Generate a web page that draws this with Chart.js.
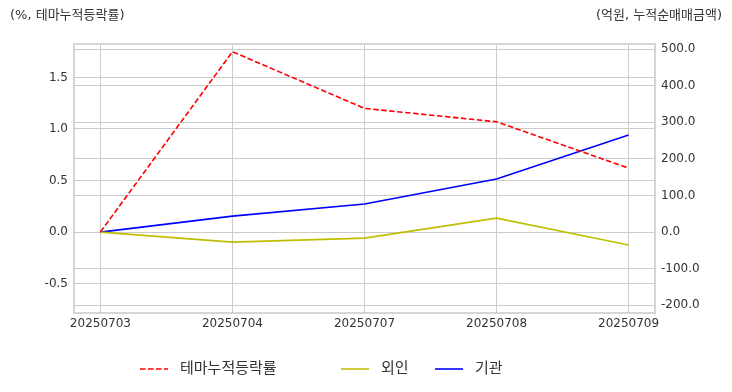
<!DOCTYPE html>
<html>
<head>
<meta charset="utf-8">
<script src="https://cdn.jsdelivr.net/npm/chart.js@4"></script>
<style>
  html, body { margin: 0; padding: 0; background: #fff; }
  #wrap { width: 732px; height: 392px; position: relative; }
</style>
</head>
<body>
<div id="wrap"><canvas id="chart" width="732" height="392"></canvas></div>
<script>
// categories (dates)
const dates = ['20250703', '20250704', '20250707', '20250708', '20250709'];

// left axis: cumulative theme change (%)
const themeRate = [0.0, 1.75, 1.20, 1.07, 0.62];

// right axis: cumulative net buying (억원)
const foreign = [0.0, -27.5, -16.5, 38.0, -35.5];
const institution = [0.0, 43.5, 76.5, 145.0, 265.0];

// tick labels
const leftTicks = [-0.5, 0.0, 0.5, 1.0, 1.5];
const rightTicks = [-200, -100, 0, 100, 200, 300, 400, 500];

const FONT = '"DejaVu Sans", "Noto Sans CJK KR", sans-serif';
const GRID = '#cccccc';
const TEXT = '#333333';

function toPoints(values) {
    return values.map((v, i) => ({ x: i, y: v }));
}

// titles, frame around the plot and a bottom legend
const decorPlugin = {
    id: 'decor',
    afterDraw(chart) {
        const ctx = chart.ctx;
        const area = chart.chartArea;
        ctx.save();

        // frame
        ctx.strokeStyle = GRID;
        ctx.lineWidth = 1.6;
        ctx.strokeRect(area.left, area.top, area.right - area.left, area.bottom - area.top);

        // axis titles
        ctx.fillStyle = TEXT;
        ctx.font = '13px ' + FONT;
        ctx.textBaseline = 'middle';
        ctx.textAlign = 'left';
        ctx.fillText('(%, 테마누적등락률)', 10, 16);
        ctx.textAlign = 'right';
        ctx.fillText('(억원, 누적순매매금액)', 722, 16);

        // legend
        const legendX = [140, 341, 435];
        const legendY = 369;
        ctx.font = '15px ' + FONT;
        ctx.textAlign = 'left';
        chart.data.datasets.forEach((ds, i) => {
            const x = legendX[i];
            ctx.strokeStyle = ds.borderColor;
            ctx.lineWidth = ds.borderWidth;
            ctx.setLineDash(ds.borderDash || []);
            ctx.beginPath();
            ctx.moveTo(x, legendY);
            ctx.lineTo(x + 28, legendY);
            ctx.stroke();
            ctx.setLineDash([]);
            ctx.fillStyle = TEXT;
            ctx.fillText(ds.label, x + 40, legendY);
        });
        ctx.restore();
    }
};

new Chart(document.getElementById('chart'), {
    type: 'line',
    data: {
        datasets: [
            {
                label: '테마누적등락률',
                data: toPoints(themeRate),
                yAxisID: 'y',
                borderColor: '#ff0000',
                borderWidth: 1.6,
                borderDash: [5.5, 2.5],
                pointRadius: 0,
                tension: 0
            },
            {
                label: '외인',
                data: toPoints(foreign),
                yAxisID: 'y2',
                borderColor: '#bfbf00',
                borderWidth: 1.6,
                pointRadius: 0,
                tension: 0
            },
            {
                label: '기관',
                data: toPoints(institution),
                yAxisID: 'y2',
                borderColor: '#0000ff',
                borderWidth: 1.6,
                pointRadius: 0,
                tension: 0
            }
        ]
    },
    options: {
        responsive: false,
        animation: false,
        devicePixelRatio: 1,
        layout: { padding: { top: 44, left: 0, right: 0, bottom: 0 } },
        plugins: {
            legend: { display: false },
            tooltip: { enabled: false }
        },
        scales: {
            x: {
                type: 'linear',
                min: -0.2,
                max: 4.2,
                afterBuildTicks: axis => { axis.ticks = dates.map((d, i) => ({ value: i })); },
                afterFit: axis => { axis.height = 79; },
                grid: { color: GRID, lineWidth: 1, drawTicks: false },
                border: { display: false },
                ticks: {
                    padding: 4,
                    color: TEXT,
                    font: { family: FONT, size: 12 },
                    maxRotation: 0,
                    autoSkip: false,
                    callback: v => dates[v]
                }
            },
            y: {
                position: 'left',
                min: -0.786,
                max: 1.825,
                afterBuildTicks: axis => { axis.ticks = leftTicks.map(v => ({ value: v })); },
                afterFit: axis => { axis.width = 74; },
                grid: { color: GRID, lineWidth: 1, drawTicks: false },
                border: { display: false },
                ticks: {
                    padding: 6,
                    color: TEXT,
                    font: { family: FONT, size: 12 },
                    callback: v => v.toFixed(1)
                }
            },
            y2: {
                position: 'right',
                min: -221,
                max: 513.7,
                afterBuildTicks: axis => { axis.ticks = rightTicks.map(v => ({ value: v })); },
                afterFit: axis => { axis.width = 77; },
                grid: { color: GRID, lineWidth: 1, drawTicks: false },
                border: { display: false },
                ticks: {
                    padding: 6,
                    color: TEXT,
                    font: { family: FONT, size: 12 },
                    callback: v => v.toFixed(1)
                }
            }
        }
    },
    plugins: [decorPlugin]
});
</script>
</body>
</html>
